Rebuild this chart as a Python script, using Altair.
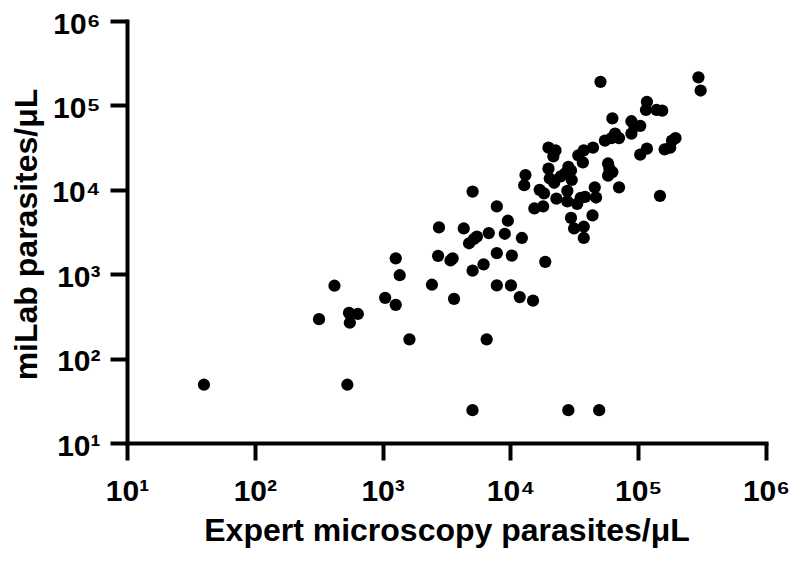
import altair as alt
import pandas as pd

# Expert microscopy parasites/uL (x) and miLab parasites/uL (y)
expert = [40, 530, 5050, 28400, 49500, 318, 420, 546, 554, 640,
          1047, 1267, 1267, 1361, 1622, 2432, 2718, 2761, 3397, 3532,
          3623, 4315, 4748, 5176, 5470, 5060, 5060, 6166, 6520, 6776,
          7830, 7830, 7830, 9040, 9550, 10260, 10100, 11830, 12300, 12820,
          13120, 15030, 15390, 18030, 16950, 18330, 18740, 19860, 22540, 21680,
          19860, 20330, 22010, 22900, 24780, 26840, 28400, 29780, 30200, 27900,
          27900, 29800, 31500, 33300, 37500, 37500, 35500, 38400, 34000, 37500,
          36900, 44300, 43900, 45700, 46800, 50700, 54900, 58100, 59500, 58100,
          62800, 61800, 62800, 65900, 70800, 70800, 88500, 88500, 93500, 103700,
          103700, 117000, 117000, 115000, 139000, 154000, 148000, 161000, 178000, 184000,
          196000, 296000, 308000]
milab = [49, 49, 24.5, 24.5, 24.5, 293, 730, 348, 266, 338,
         525, 434, 1540, 972, 169, 750, 1648, 3581, 1454, 1540,
         511, 3481, 2326, 2610, 2793, 9530, 1101, 1308, 169, 3073,
         1778, 6370, 736, 3013, 4300, 1663, 736, 536, 2687, 11330,
         14960, 487, 6010, 6370, 10000, 9090, 1400, 31600, 29300, 24900,
         17800, 13600, 12110, 7870, 14400, 15700, 18650, 16950, 13080, 9720,
         7290, 4640, 3480, 6810, 3650, 2687, 8020, 8250, 25600, 29300,
         21100, 31600, 4970, 10700, 8100, 190000, 38300, 20500, 17800, 14700,
         16200, 41000, 70100, 46400, 41000, 10700, 64900, 46400, 56200, 57300,
         26100, 30700, 110000, 88300, 88300, 86600, 8490, 30100, 31600, 38300,
         41000, 215000, 150000]

tick_values = [10, 100, 1000, 10000, 100000, 1000000]

df = pd.DataFrame({"expert": expert, "milab": milab})

label_expr = "'10' + ['⁰','¹','²','³','⁴','⁵','⁶','⁷'][round(log(datum.value)/LN10)]"

common_axis = dict(
    values=tick_values,
    grid=False,
    ticks=True,
    domainColor="black",
    domainWidth=4,
    domainCap="square",
    tickColor="black",
    tickWidth=4,
    tickSize=17,
    labelFont="Liberation Sans",
    labelFontWeight="bold",
    labelFontSize=30,
    labelColor="black",
    labelOverlap=False,
    labelFlush=False,
    labelBound=False,
    labelExpr=label_expr,
    titleFont="Liberation Sans",
    titleFontWeight="bold",
    titleFontSize=32,
    titleColor="black",
)

chart = alt.Chart(df).mark_circle(size=150, color="black", opacity=1).encode(
    x=alt.X(
        "expert:Q",
        scale=alt.Scale(type="log", domain=[10, 1000000], nice=False),
        axis=alt.Axis(
            title="Expert microscopy parasites/μL",
            labelPadding=16,
            titleBaseline="alphabetic",
            titleY=97,
            **common_axis,
        ),
    ),
    y=alt.Y(
        "milab:Q",
        scale=alt.Scale(type="log", domain=[10, 1000000], nice=False),
        axis=alt.Axis(
            title="miLab parasites/μL",
            labelPadding=10,
            labelOffset=3,
            titleBaseline="alphabetic",
            titleX=-91,
            titleY=213,
            titleAngle=270,
            titleAlign="center",
            **common_axis,
        ),
    ),
).properties(
    width=639,
    height=422,
    autosize=alt.AutoSizeParams(type="none"),
    padding={"left": 119, "top": 13, "right": 26, "bottom": 105},
).configure_view(stroke=None)

chart.save("out.html", embed_options={"renderer": "svg", "actions": False})
